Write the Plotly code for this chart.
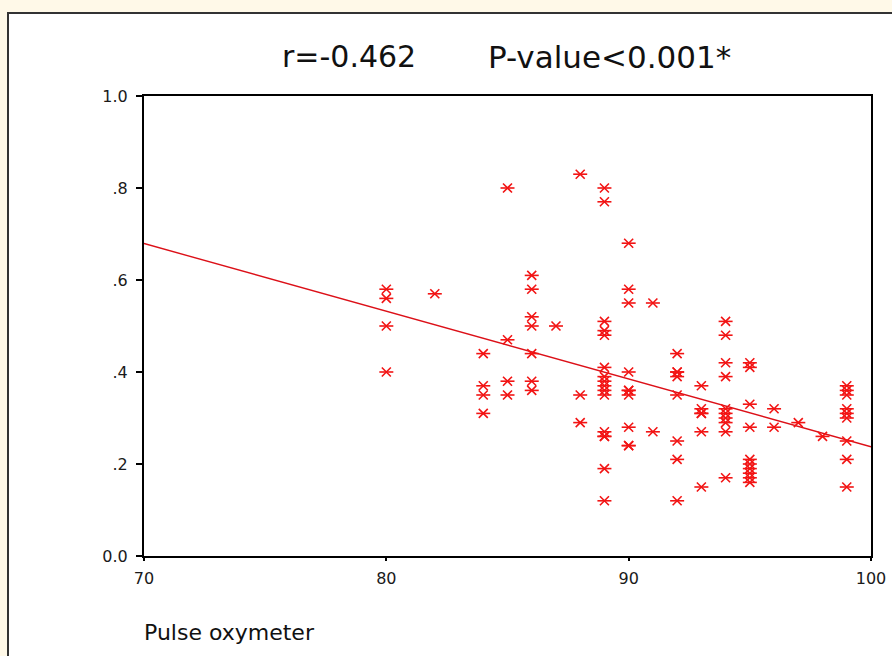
import numpy as np
import plotly.graph_objects as go

# ---- data ----
pulse_ox = (
    [80] * 4 + [82] * 1 + [84] * 4 + [85] * 4 + [86] * 7 + [87] * 1 + [88] * 3
    + [89] * 16 + [90] * 10 + [91] * 2 + [92] * 8 + [93] * 6 + [94] * 10
    + [95] * 10 + [96] * 2 + [97] * 1 + [98] * 1 + [99] * 9
)
ratio = (
    [0.58, 0.56, 0.50, 0.40]
    + [0.57]
    + [0.44, 0.37, 0.35, 0.31]
    + [0.80, 0.47, 0.38, 0.35]
    + [0.61, 0.58, 0.52, 0.50, 0.44, 0.38, 0.36]
    + [0.50]
    + [0.83, 0.35, 0.29]
    + [0.80, 0.77, 0.51, 0.49, 0.48, 0.41, 0.39, 0.38, 0.37, 0.36, 0.35, 0.27, 0.26, 0.26, 0.19, 0.12]
    + [0.68, 0.58, 0.55, 0.40, 0.36, 0.36, 0.35, 0.28, 0.24, 0.24]
    + [0.55, 0.27]
    + [0.44, 0.40, 0.40, 0.39, 0.35, 0.25, 0.21, 0.12]
    + [0.37, 0.32, 0.31, 0.31, 0.27, 0.15]
    + [0.51, 0.48, 0.42, 0.39, 0.32, 0.31, 0.30, 0.29, 0.27, 0.17]
    + [0.42, 0.41, 0.33, 0.28, 0.21, 0.20, 0.19, 0.18, 0.17, 0.16]
    + [0.32, 0.28]
    + [0.29]
    + [0.26]
    + [0.37, 0.36, 0.35, 0.32, 0.31, 0.30, 0.25, 0.21, 0.15]
)
x_range = [70, 100]
x_tickvals = [70, 80, 90, 100]
x_ticktext = ["70", "80", "90", "100"]
y_tickvals = [0.0, 0.2, 0.4, 0.6, 0.8, 1.0]
y_ticktext = ["0.0", ".2", ".4", ".6", ".8", "1.0"]
title_r = "r=-0.462"
title_p = "P-value<0.001*"
x_title = "Pulse oxymeter"

# ---- fit line (least squares over the data) ----
slope, intercept = np.polyfit(pulse_ox, ratio, 1)
fit_x = np.array(x_range, dtype=float)
fit_y = intercept + slope * fit_x

W, H = 892, 656
L, R, T, B = 144, 21, 96, 100
pw, ph = W - L - R, H - T - B


def px_to_paper_x(px):
    return (px - L) / pw


def px_to_paper_y(py):
    return (H - B - py) / ph


FONT = "DejaVu Sans"
RED = "#f21414"
CREAM = "#fff9e8"

fig = go.Figure()
fig.add_trace(go.Scatter(
    x=fit_x, y=fit_y, mode="lines",
    line=dict(color="#dc1018", width=1.4), hoverinfo="skip", showlegend=False,
))
fig.add_trace(go.Scatter(
    x=pulse_ox, y=ratio, mode="markers",
    marker=dict(symbol="x-thin-open", size=9, color=RED,
                line=dict(color=RED, width=1.6)),
    showlegend=False,
))
fig.add_trace(go.Scatter(
    x=pulse_ox, y=ratio, mode="markers",
    marker=dict(symbol="line-ew-open", size=10, color=RED,
                line=dict(color=RED, width=1.6)),
    showlegend=False, hoverinfo="skip",
))

fig.update_layout(
    template="none",
    width=W, height=H, autosize=False,
    margin=dict(l=L, r=R, t=T, b=B, pad=0, autoexpand=False),
    paper_bgcolor=CREAM,
    plot_bgcolor="white",
    font=dict(family=FONT, color="#1a1a1a"),
    shapes=[dict(
        type="rect", xref="paper", yref="paper", layer="below",
        x0=px_to_paper_x(8), x1=px_to_paper_x(905),
        y0=px_to_paper_y(670), y1=px_to_paper_y(13),
        fillcolor="white", line=dict(color="#333333", width=2),
    )],
    annotations=[
        dict(text=title_r, xref="paper", yref="paper",
             x=px_to_paper_x(349), y=px_to_paper_y(57),
             xanchor="center", yanchor="middle", showarrow=False,
             font=dict(family=FONT, size=30, color="#111111")),
        dict(text=title_p, xref="paper", yref="paper",
             x=px_to_paper_x(609), y=px_to_paper_y(57),
             xanchor="center", yanchor="middle", showarrow=False,
             font=dict(family=FONT, size=31, color="#111111")),
        dict(text=x_title, xref="paper", yref="paper",
             x=px_to_paper_x(142), y=px_to_paper_y(632),
             xanchor="left", yanchor="middle", showarrow=False,
             font=dict(family=FONT, size=22, color="#111111")),
    ],
)
fig.update_xaxes(
    range=x_range, tickvals=x_tickvals, ticktext=x_ticktext,
    automargin=False,
    showgrid=False, zeroline=False,
    showline=True, linecolor="black", linewidth=2, mirror=True,
    ticks="outside", ticklen=3, tickwidth=1.5, tickcolor="black",
    ticklabelstandoff=4,
    tickfont=dict(family=FONT, size=16, color="#1a1a1a"),
)
fig.update_yaxes(
    range=[0, 1], tickvals=y_tickvals, ticktext=y_ticktext,
    automargin=False,
    showgrid=False, zeroline=False,
    showline=True, linecolor="black", linewidth=2, mirror=True,
    ticks="outside", ticklen=6, tickwidth=1.5, tickcolor="black",
    ticklabelstandoff=5,
    tickfont=dict(family=FONT, size=16, color="#1a1a1a"),
)

# remove the browser's default page margin so the 892x656 figure fills the window
fig.write_html(
    "out.html",
    config={"displayModeBar": False},
    post_script="document.body.style.margin='0px';"
                "document.body.style.overflow='hidden';"
                "document.body.style.background='" + CREAM + "';",
)
